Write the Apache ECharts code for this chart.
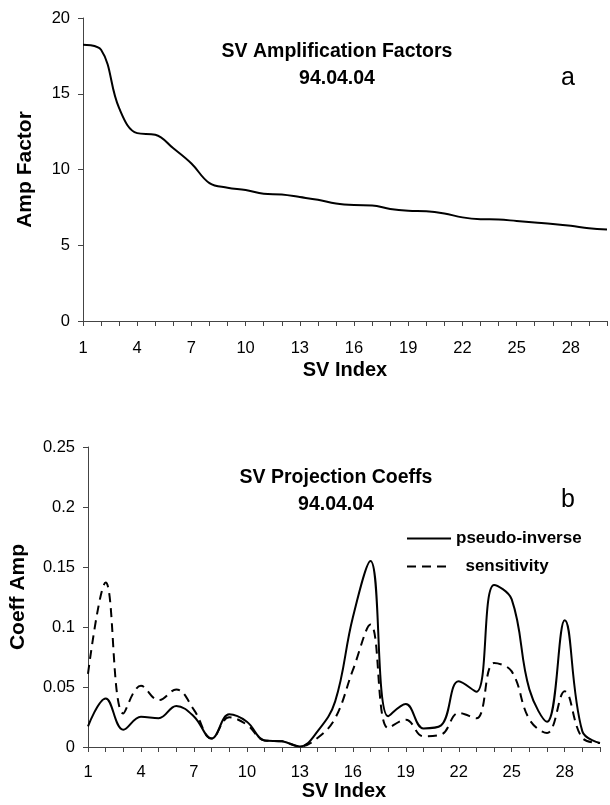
<!DOCTYPE html>
<html>
<head>
<meta charset="utf-8">
<script src="https://cdn.jsdelivr.net/npm/echarts@6/dist/echarts.min.js"></script>
<style>html,body{margin:0;padding:0;background:#fff;}#c{width:610px;height:805px;}</style>
</head>
<body>
<div id="c"></div>
<script>
const svIndex = Array.from({length: 30}, (_, i) => String(i + 1));
const ampFactor = [18.24, 17.9, 14.05, 12.4, 12.3, 11.4, 10.4, 9.1, 8.8, 8.65,
  8.4, 8.35, 8.18, 8.0, 7.75, 7.65, 7.63, 7.4, 7.28, 7.25,
  7.1, 6.84, 6.72, 6.7, 6.6, 6.5, 6.4, 6.28, 6.13, 6.04];
const pseudoInverse = [0.0172, 0.0405, 0.0144, 0.0252, 0.024, 0.0342, 0.0255, 0.007, 0.0272, 0.021,
  0.0055, 0.0047, 0.0005, 0.013, 0.038, 0.108, 0.155, 0.0256, 0.0358, 0.0155,
  0.018, 0.0547, 0.046, 0.135, 0.123, 0.048, 0.021, 0.1056, 0.013, 0.0033];
const sensitivity = [0.061, 0.137, 0.028, 0.051, 0.039, 0.048, 0.031, 0.007, 0.0247, 0.0186,
  0.0055, 0.0047, 0.0005, 0.0075, 0.024, 0.064, 0.102, 0.0158, 0.0228, 0.0089,
  0.0103, 0.0283, 0.024, 0.07, 0.063, 0.023, 0.0117, 0.0464, 0.0075, 0.0033];
const topTicks = [0, 5, 10, 15, 20];
const bottomTicks = [0, 0.05, 0.1, 0.15, 0.2, 0.25];

const FONT = 'Liberation Sans, Arial, sans-serif';
const chart = echarts.init(document.getElementById('c'));
const axisLine = {show: true, lineStyle: {color: '#444', width: 1}};
function xAx(gridIndex, nameGap, labelMargin) {
  return {
    type: 'category', gridIndex, data: svIndex, boundaryGap: false,
    name: 'SV Index', nameLocation: 'middle', nameGap,
    nameTextStyle: {fontFamily: FONT, fontWeight: 'bold', fontSize: 20, color: '#000'},
    axisLine, axisTick: {show: true, interval: 0, length: 5, lineStyle: {color: '#444'}},
    axisLabel: {interval: 2, fontFamily: FONT, fontSize: 16.5, color: '#000', margin: labelMargin},
    splitLine: {show: false}
  };
}
function yAx(gridIndex, name, ticks, nameGap) {
  return {
    type: 'value', gridIndex, min: ticks[0], max: ticks[ticks.length - 1],
    interval: ticks[1] - ticks[0],
    name, nameLocation: 'middle', nameGap,
    nameTextStyle: {fontFamily: FONT, fontWeight: 'bold', fontSize: 21, color: '#000'},
    axisLine, axisTick: {show: true, length: 5, lineStyle: {color: '#444'}},
    axisLabel: {fontFamily: FONT, fontSize: 16.5, color: '#000', margin: 13},
    splitLine: {show: false}
  };
}
const tStyle = {fontFamily: FONT, fontWeight: 'bold', fontSize: 19.5, color: '#000', lineHeight: 27};
const letterStyle = {fontFamily: FONT, fontSize: 25, color: '#000', fontWeight: 'normal'};
chart.setOption({
  animation: false,
  backgroundColor: '#fff',
  title: [
    {text: 'SV Amplification Factors\n94.04.04', left: 332, top: 33, textAlign: 'center', textStyle: tStyle},
    {text: 'a', left: 556, top: 61, textStyle: letterStyle},
    {text: 'SV Projection Coeffs\n94.04.04', left: 331, top: 459, textAlign: 'center', textStyle: tStyle},
    {text: 'b', left: 556, top: 483, textStyle: letterStyle}
  ],
  legend: {
    orient: 'vertical', left: 401, top: 525, itemWidth: 44, itemHeight: 14, itemGap: 11,
    data: ['pseudo-inverse', 'sensitivity'],
    itemStyle: {opacity: 0},
    formatter: n => n === 'sensitivity' ? '  ' + n : n,
    textStyle: {fontFamily: FONT, fontWeight: 'bold', fontSize: 17, color: '#000', lineHeight: 14}
  },
  grid: [
    {left: 83, right: 3, top: 18, bottom: 484},
    {left: 87, right: 10, top: 447, bottom: 58}
  ],
  xAxis: [xAx(0, 39, 19), xAx(1, 33, 17)],
  yAxis: [yAx(0, 'Amp Factor', topTicks, 47), yAx(1, 'Coeff Amp', bottomTicks, 59)],
  series: [
    {type: 'line', xAxisIndex: 0, yAxisIndex: 0, data: ampFactor, smooth: 0.4, symbol: 'none',
      lineStyle: {color: '#000', width: 2}},
    {name: 'pseudo-inverse', type: 'line', xAxisIndex: 1, yAxisIndex: 1, data: pseudoInverse, smooth: 0.4, symbol: 'none',
      lineStyle: {color: '#000', width: 2}, itemStyle: {color: '#000'}},
    {name: 'sensitivity', type: 'line', xAxisIndex: 1, yAxisIndex: 1, data: sensitivity, smooth: 0.4, symbol: 'none',
      lineStyle: {color: '#000', width: 2, type: [9, 6]}, itemStyle: {color: '#000'}}
  ]
});
</script>
</body>
</html>
